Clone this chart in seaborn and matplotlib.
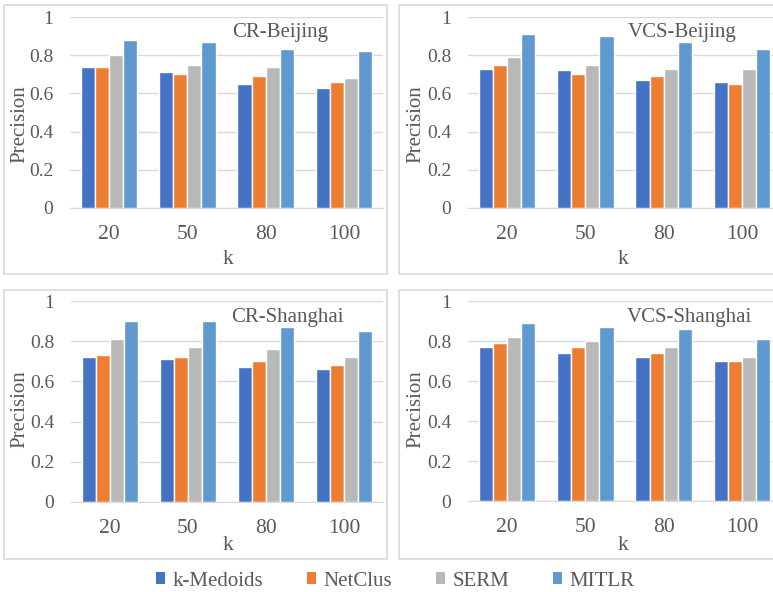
import matplotlib
matplotlib.use("Agg")
import matplotlib.pyplot as plt
from matplotlib.patches import Rectangle, Patch
import seaborn as sns
import pandas as pd

k_values = ["20", "50", "80", "100"]
methods = ["k-Medoids", "NetClus", "SERM", "MITLR"]
colors = ["#4472C4", "#ED7D31", "#B8B8B8", "#5F99CF"]

cr_beijing = {
    "k-Medoids": [0.74, 0.71, 0.65, 0.63],
    "NetClus": [0.74, 0.70, 0.69, 0.66],
    "SERM": [0.80, 0.75, 0.74, 0.68],
    "MITLR": [0.88, 0.87, 0.83, 0.82],
}
vcs_beijing = {
    "k-Medoids": [0.73, 0.72, 0.67, 0.66],
    "NetClus": [0.75, 0.70, 0.69, 0.65],
    "SERM": [0.79, 0.75, 0.73, 0.73],
    "MITLR": [0.91, 0.90, 0.87, 0.83],
}
cr_shanghai = {
    "k-Medoids": [0.72, 0.71, 0.67, 0.66],
    "NetClus": [0.73, 0.72, 0.70, 0.68],
    "SERM": [0.81, 0.77, 0.76, 0.72],
    "MITLR": [0.90, 0.90, 0.87, 0.85],
}
vcs_shanghai = {
    "k-Medoids": [0.77, 0.74, 0.72, 0.70],
    "NetClus": [0.79, 0.77, 0.74, 0.70],
    "SERM": [0.82, 0.80, 0.77, 0.72],
    "MITLR": [0.89, 0.87, 0.86, 0.81],
}

W, H = 773, 592
TEXT = "#595959"
GRID = "#D9D9D9"
SERIF = ["Liberation Serif", "DejaVu Serif"]

sns.set_style("white")
plt.rcParams["font.family"] = SERIF

fig = plt.figure(figsize=(W / 100, H / 100), dpi=100)


def px_axes(left, top, right, bottom):
    return fig.add_axes([left / W, 1 - bottom / H, (right - left) / W, (bottom - top) / H])


def px_box(left, top, right, bottom):
    fig.patches.append(Rectangle((left / W, 1 - bottom / H), (right - left) / W, (bottom - top) / H,
                                 transform=fig.transFigure, fill=False, edgecolor=GRID, linewidth=1.2))


def to_long(data):
    rows = []
    for m in methods:
        for k, v in zip(k_values, data[m]):
            rows.append({"k": k, "method": m, "precision": v})
    return pd.DataFrame(rows)


# data, title, axes (l, t, r, b), box (l, t, r, b), title centre, ylabel pos, xlabel pos
panels = [
    (cr_beijing, "CR-Beijing", (70, 17, 383, 208), (4, 5, 387, 274), (280, 33), (20, 124), (228, 260)),
    (vcs_beijing, "VCS-Beijing", (468, 17, 781, 208), (399, 5, 790, 274), (682, 32), (416, 124), (623, 260)),
    (cr_shanghai, "CR-Shanghai", (71, 301, 383, 502), (4, 290, 387, 559), (287, 317), (20, 409), (228, 545)),
    (vcs_shanghai, "VCS-Shanghai", (468, 301, 781, 501), (399, 290, 790, 559), (689, 317), (416, 409), (623, 545)),
]

for data, title, ax_px, box_px, title_xy, ylab_xy, xlab_xy in panels:
    px_box(*box_px)
    l, t, r, b = ax_px
    ax = px_axes(l, t, r, b)
    df = to_long(data)
    sns.barplot(data=df, x="k", y="precision", hue="method", hue_order=methods,
                palette=colors, width=0.72, saturation=1, ax=ax, legend=False)
    ax.set_ylim(0, 1)
    ax.set_xlim(-0.5, 3.5)
    ax.set_yticks([0, 0.2, 0.4, 0.6, 0.8, 1])
    ax.set_yticklabels(["0", "0.2", "0.4", "0.6", "0.8", "1"])
    ax.yaxis.grid(True, color=GRID, linewidth=1)
    ax.set_axisbelow(True)
    for s in ["top", "right", "left"]:
        ax.spines[s].set_visible(False)
    ax.spines["bottom"].set_color(GRID)
    ax.tick_params(axis="both", length=0, labelcolor=TEXT)
    ax.tick_params(axis="x", pad=12, labelsize=15.5)
    ax.tick_params(axis="y", pad=12, labelsize=14)
    ax.set_xlabel("k", fontsize=15.5, color=TEXT)
    ax.set_ylabel("Precision", fontsize=15, color=TEXT)
    ax.xaxis.set_label_coords((xlab_xy[0] - l) / (r - l), (b - xlab_xy[1]) / (b - t))
    ax.yaxis.set_label_coords((ylab_xy[0] - l) / (r - l), (b - ylab_xy[1]) / (b - t))
    ax.xaxis.label.set_va("center")
    ax.yaxis.label.set_va("center")
    fig.text(title_xy[0] / W, 1 - title_xy[1] / H, title, fontsize=15, color=TEXT,
             ha="center", va="center")

handles = [Patch(facecolor=c, edgecolor="none") for c in colors]
fig.legend(handles, methods, loc="center", bbox_to_anchor=(395 / W, 1 - 581 / H), ncol=4,
           frameon=False, prop={"family": SERIF, "size": 15}, labelcolor=TEXT,
           handlelength=0.45, handleheight=0.45, handletextpad=0.35, columnspacing=2.1)

fig.savefig("out.png", dpi=100)
